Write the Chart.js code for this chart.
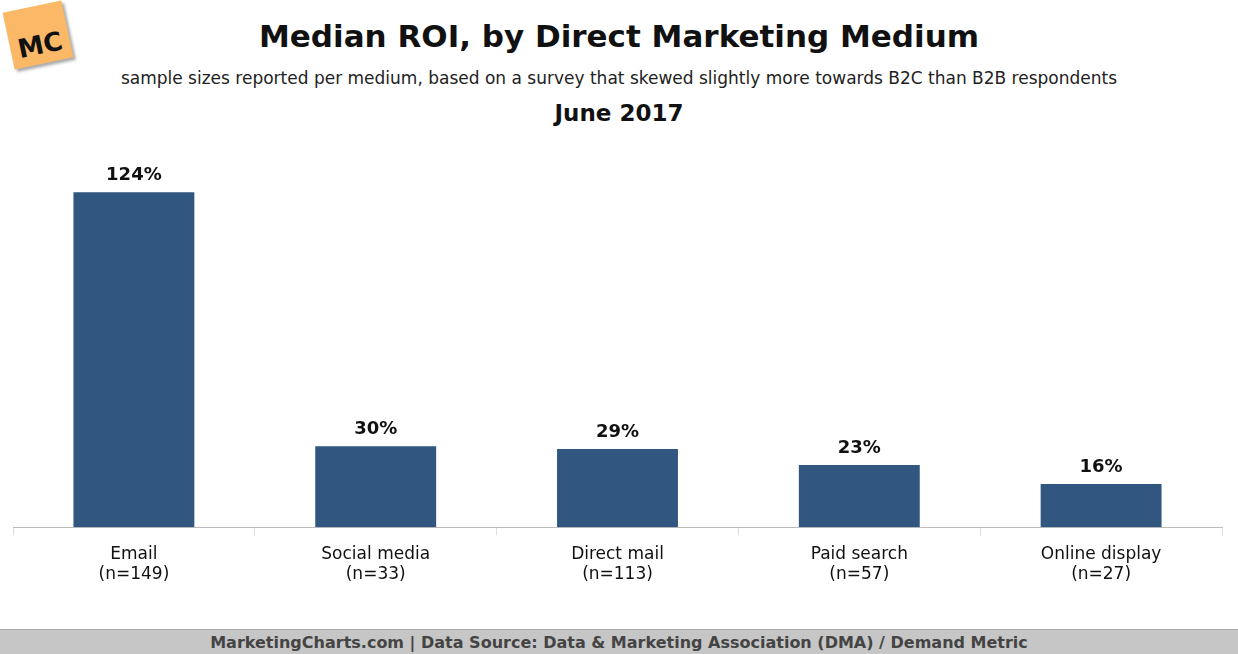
<!DOCTYPE html>
<html>
<head>
<meta charset="utf-8">
<script src="https://cdn.jsdelivr.net/npm/chart.js@4"></script>
<style>
  body { margin: 0; width: 1238px; height: 654px; background: #fff; font-family: Verdana, "DejaVu Sans", sans-serif; position: relative; overflow: hidden; }
  .t { position: absolute; left: 0; width: 1238px; text-align: center; color: #111; }
  #title { top: 18px; font-size: 31px; font-weight: bold; }
  #sub { top: 68px; font-size: 17px; color: #222; }
  #date { top: 100px; font-size: 23px; font-weight: bold; }
  #logo { position: absolute; left: 8px; top: 6px; width: 60px; height: 58px; background: #fbb866; transform: rotate(-12deg); box-shadow: 2px 3px 3px #aaa; font: bold 26px "DejaVu Sans", sans-serif; color: #111; display: flex; align-items: flex-end; justify-content: center; padding-bottom: 4px; box-sizing: border-box; }
  #foot { position: absolute; left: 0; top: 629px; width: 1238px; height: 25px; background: #c6c6c6; border-top: 1px solid #aaa; text-align: center; font-size: 16px; font-weight: bold; color: #444; line-height: 25px; }
  #wrap { position: absolute; left: 0; top: 164px; width: 1238px; height: 430px; }
</style>
</head>
<body>
<div id="logo">MC</div>
<div class="t" id="title">Median ROI, by Direct Marketing Medium</div>
<div class="t" id="sub">sample sizes reported per medium, based on a survey that skewed slightly more towards B2C than B2B respondents</div>
<div class="t" id="date">June 2017</div>
<div id="wrap"><canvas id="c"></canvas></div>
<div id="foot">MarketingCharts.com | Data Source: Data &amp; Marketing Association (DMA) / Demand Metric</div>
<script>
const categories = ['Email', 'Social media', 'Direct mail', 'Paid search', 'Online display']
const sampleSizes = ['(n=149)', '(n=33)', '(n=113)', '(n=57)', '(n=27)']
const roiValues = [124, 30, 29, 23, 16]

const labelPlugin = {
  id: 'valueLabels',
  afterDatasetsDraw (chart) {
    const ctx = chart.ctx
    ctx.save()
    ctx.font = 'bold 18px Verdana, "DejaVu Sans", sans-serif'
    ctx.fillStyle = '#111'
    ctx.textAlign = 'center'
    ctx.textBaseline = 'bottom'
    chart.getDatasetMeta(0).data.forEach((bar, i) => {
      ctx.fillText(roiValues[i] + '%', bar.x, bar.y - 8)
    })
    ctx.restore()
  },
}

new Chart(document.getElementById('c'), {
  type: 'bar',
  data: {
    labels: categories.map((c, i) => [c, sampleSizes[i]]),
    datasets: [{ data: roiValues, backgroundColor: '#31567f', barPercentage: 0.5, categoryPercentage: 1 }],
  },
  options: {
    responsive: true,
    maintainAspectRatio: false,
    animation: false,
    layout: { padding: { left: 13, right: 16, top: 0 } },
    plugins: { legend: { display: false }, tooltip: { enabled: false } },
    scales: {
      x: {
        grid: { display: true, drawOnChartArea: false, offset: true, tickLength: 8, color: '#ddd' },
        border: { dash: [2, 2], color: '#bbb' },
        ticks: { color: '#111', font: { size: 17, family: 'Verdana, "DejaVu Sans", sans-serif' }, padding: 9 },
      },
      y: { display: false, min: 0, max: 134.5 },
    },
  },
  plugins: [labelPlugin],
})
</script>
</body>
</html>
